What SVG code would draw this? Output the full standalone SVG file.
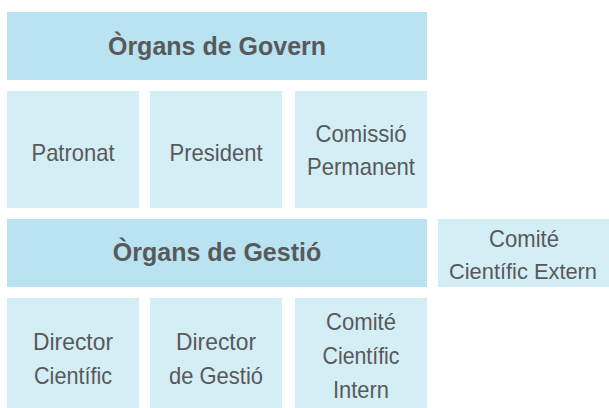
<svg xmlns="http://www.w3.org/2000/svg" width="609" height="408" viewBox="0 0 609 408">
<style>
.hdr{fill:#b9e3f0}
.box{fill:#d4eef5}
text{font-family:"Liberation Sans",Arial,sans-serif;fill:#58595b;text-anchor:middle}
.h{font-size:25px;font-weight:bold}
.t{font-size:24px}
</style>
<rect width="609" height="408" fill="#ffffff"/>
<g id="organs-govern"><rect class="hdr" x="7" y="12" width="420" height="68"/><text class="h" x="217" y="55">Òrgans de Govern</text></g>
<g id="patronat"><rect class="box" x="7" y="91" width="132" height="117"/><text class="t" x="73" y="161" textLength="83" lengthAdjust="spacingAndGlyphs">Patronat</text></g>
<g id="president"><rect class="box" x="150" y="91" width="132" height="117"/><text class="t" x="216" y="161" textLength="93" lengthAdjust="spacingAndGlyphs">President</text></g>
<g id="comissio-permanent"><rect class="box" x="295" y="91" width="132" height="117"/><text class="t" x="361" y="142" textLength="91" lengthAdjust="spacingAndGlyphs">Comissió</text><text class="t" x="361" y="175" textLength="108" lengthAdjust="spacingAndGlyphs">Permanent</text></g>
<g id="organs-gestio"><rect class="hdr" x="7" y="219" width="420" height="68"/><text class="h" x="217" y="261">Òrgans de Gestió</text></g>
<g id="comite-extern"><rect class="box" x="438" y="219" width="171" height="68"/><text class="t" x="524" y="247" textLength="70" lengthAdjust="spacingAndGlyphs">Comité</text><text class="t" x="523" y="279" style="font-size:22px" textLength="148" lengthAdjust="spacingAndGlyphs">Científic Extern</text></g>
<g id="director-cientific"><rect class="box" x="7" y="298" width="132" height="110"/><text class="t" x="73" y="350" textLength="80" lengthAdjust="spacingAndGlyphs">Director</text><text class="t" x="73" y="384" textLength="78" lengthAdjust="spacingAndGlyphs">Científic</text></g>
<g id="director-gestio"><rect class="box" x="150" y="298" width="132" height="110"/><text class="t" x="216" y="350" textLength="80" lengthAdjust="spacingAndGlyphs">Director</text><text class="t" x="216" y="384" textLength="94" lengthAdjust="spacingAndGlyphs">de Gestió</text></g>
<g id="comite-intern"><rect class="box" x="295" y="298" width="132" height="110"/><text class="t" x="361" y="330" textLength="70" lengthAdjust="spacingAndGlyphs">Comité</text><text class="t" x="361" y="364" textLength="77" lengthAdjust="spacingAndGlyphs">Científic</text><text class="t" x="361" y="398" textLength="56" lengthAdjust="spacingAndGlyphs">Intern</text></g>
<g id="connectors"></g>
</svg>
